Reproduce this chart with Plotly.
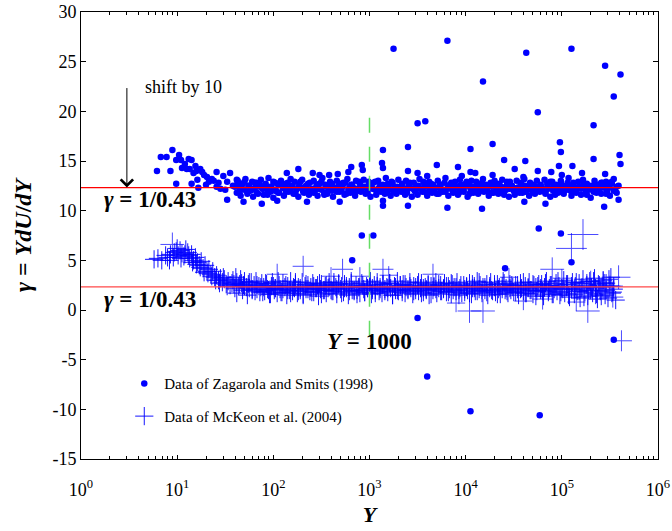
import numpy as np
import plotly.graph_objects as go

# ---------------- data (log10 of Y, and gamma values) ----------------
GAMMA_LOG = 1 / 0.43          # log-law value
SHIFT = 10                    # Zagarola & Smits data shifted by 10
Y_MARK = 1000                 # vertical marker position

# Zagarola and Smits (1998) - near-wall part
zs_low_lx = [0.79, 0.83, 0.89, 0.95, 0.99, 1.02, 0.93, 0.99, 1.04, 1.08, 1.12, 1.15, 1.10, 1.13, 1.19, 1.20,
             1.24, 1.26, 1.15, 1.21, 1.31, 1.36, 1.41, 1.48, 1.41, 1.52, 1.58, 1.65, 1.05, 1.17, 1.28, 1.33,
             1.38, 1.45, 1.55, 1.62, 1.22, 1.30, 1.43, 1.50]
zs_low_y = [14.0, 15.4, 15.4, 16.1, 15.1, 15.6, 14.0, 12.7, 15.1, 14.7, 15.2, 15.1, 14.2, 14.2, 14.5, 14.0,
            14.2, 13.9, 12.7, 13.1, 13.4, 13.2, 13.9, 13.5, 12.4, 12.9, 12.5, 12.7, 14.3, 13.8, 13.6, 12.9,
            13.0, 12.2, 13.8, 13.1, 12.3, 12.6, 12.8, 12.1]

# Zagarola and Smits (1998) - main band
zs_band_lx = [
    1.60, 1.62, 1.63, 1.65, 1.66, 1.68, 1.70, 1.71, 1.73, 1.74,
    1.76, 1.78, 1.79, 1.81, 1.82, 1.84, 1.86, 1.87, 1.89, 1.90,
    1.92, 1.94, 1.95, 1.97, 1.98, 2.00, 2.02, 2.03, 2.05, 2.06,
    2.08, 2.10, 2.11, 2.13, 2.14, 2.16, 2.18, 2.19, 2.21, 2.22,
    2.24, 2.26, 2.27, 2.29, 2.30, 2.32, 2.34, 2.35, 2.37, 2.38,
    2.40, 2.42, 2.43, 2.45, 2.46, 2.48, 2.50, 2.51, 2.53, 2.54,
    2.56, 2.58, 2.59, 2.61, 2.62, 2.64, 2.66, 2.67, 2.69, 2.70,
    2.72, 2.74, 2.75, 2.77, 2.78, 2.80, 2.82, 2.83, 2.85, 2.86,
    2.88, 2.90, 2.91, 2.93, 2.94, 2.96, 2.98, 2.99, 3.01, 3.02,
    3.04, 3.06, 3.07, 3.09, 3.10, 3.12, 3.14, 3.15, 3.17, 3.18,
    3.20, 3.22, 3.23, 3.25, 3.26, 3.28, 3.30, 3.31, 3.33, 3.34,
    3.36, 3.38, 3.39, 3.41, 3.42, 3.44, 3.46, 3.47, 3.49, 3.50,
    3.52, 3.54, 3.55, 3.57, 3.58, 3.60, 3.62, 3.63, 3.65, 3.66,
    3.68, 3.70, 3.71, 3.73, 3.74, 3.76, 3.78, 3.79, 3.81, 3.82,
    3.84, 3.86, 3.87, 3.89, 3.90, 3.92, 3.94, 3.95, 3.97, 3.98,
    4.00, 4.02, 4.03, 4.05, 4.06, 4.08, 4.10, 4.11, 4.13, 4.14,
    4.16, 4.18, 4.19, 4.21, 4.22, 4.24, 4.26, 4.27, 4.29, 4.30,
    4.32, 4.34, 4.35, 4.37, 4.38, 4.40, 4.42, 4.43, 4.45, 4.46,
    4.48, 4.50, 4.51, 4.53, 4.54, 4.56, 4.58, 4.59, 4.61, 4.62,
    4.64, 4.66, 4.67, 4.69, 4.70, 4.72, 4.74, 4.75, 4.77, 4.78,
    4.80, 4.82, 4.83, 4.85, 4.86, 4.88, 4.90, 4.91, 4.93, 4.94,
    4.96, 4.98, 4.99, 5.01, 5.02, 5.04, 5.06, 5.07, 5.09, 5.10,
    5.12, 5.14, 5.15, 5.17, 5.18, 5.20, 5.22, 5.23, 5.25, 5.26,
    5.28, 5.30, 5.31, 5.33, 5.34, 5.36, 5.38, 5.39, 5.41, 5.42,
    5.44, 5.46, 5.47, 5.49, 5.50, 5.52, 5.54, 5.55, 5.57, 5.59]
zs_band_y = [
    12.4, 11.8, 13.0, 12.2, 11.5, 12.7, 12.1, 13.2, 11.9, 12.5,
    12.0, 12.9, 11.4, 12.3, 12.8, 11.7, 12.6, 13.1, 12.2, 11.6,
    12.5, 12.1, 13.3, 11.9, 12.4, 11.3, 12.8, 12.0, 12.6, 11.8,
    13.0, 12.3, 11.5, 12.7, 12.2, 11.9, 13.2, 12.4, 11.7, 12.9,
    12.1, 11.4, 12.6, 12.3, 13.1, 11.8, 12.5, 12.0, 11.6, 12.8,
    12.2, 13.0, 11.9, 12.4, 11.5, 12.7, 12.1, 13.3, 11.8, 12.6,
    11.7, 12.5, 12.9, 12.0, 11.4, 12.3, 13.0, 12.2, 11.9, 12.7,
    12.4, 11.6, 12.8, 13.2, 12.1, 11.8, 12.6, 12.3, 11.5, 13.0,
    12.0, 12.7, 11.9, 12.4, 13.1, 11.7, 12.2, 12.9, 11.4, 12.5,
    12.8, 12.1, 11.6, 13.0, 12.3, 11.9, 12.6, 12.2, 13.3, 11.8,
    12.5, 11.5, 12.9, 12.0, 12.4, 11.7, 13.1, 12.2, 11.9, 12.7,
    12.1, 13.0, 11.8, 12.6, 12.3, 11.4, 12.8, 12.0, 12.5, 11.6,
    13.2, 12.2, 11.9, 12.7, 12.4, 11.5, 12.9, 12.1, 11.8, 12.6,
    12.3, 11.7, 13.0, 12.5, 12.0, 11.9, 12.8, 13.3, 12.2, 11.5,
    12.6, 12.1, 11.8, 12.9, 12.4, 11.6, 13.1, 12.3, 12.0, 11.9,
    12.7, 11.4, 12.5, 12.2, 13.0, 11.8, 12.4, 12.9, 11.7, 12.1,
    12.3, 13.2, 11.9, 12.6, 12.0, 11.5, 12.8, 12.4, 11.8, 13.0,
    12.2, 11.7, 12.7, 12.4, 13.1, 11.9, 12.1, 12.6, 11.4, 12.9,
    12.5, 12.0, 11.6, 13.0, 12.3, 11.8, 12.7, 12.2, 13.2, 11.9,
    12.4, 11.5, 12.8, 12.1, 12.6, 11.7, 13.0, 12.3, 11.9, 12.5,
    12.0, 13.1, 11.8, 12.7, 12.2, 11.4, 12.9, 12.4, 11.6, 12.6,
    12.3, 11.9, 13.0, 12.5, 11.7, 12.1, 12.8, 13.3, 12.0, 11.5,
    12.6, 12.2, 11.8, 12.9, 12.4, 11.6, 13.1, 12.3, 11.9, 12.7,
    12.1, 11.3, 12.5, 12.2, 13.0, 11.8, 12.6, 12.0, 11.7, 12.8,
    12.4, 12.9, 11.9, 12.3, 11.5, 12.7, 13.2, 12.1, 11.8, 12.5]

# Zagarola and Smits (1998) - band core
zs_core_lx = [
    1.62, 1.65, 1.67, 1.70, 1.73, 1.75, 1.78, 1.81, 1.83, 1.86,
    1.89, 1.92, 1.94, 1.97, 2.00, 2.02, 2.05, 2.08, 2.10, 2.13,
    2.15, 2.18, 2.20, 2.23, 2.26, 2.28, 2.31, 2.34, 2.36, 2.39,
    2.42, 2.45, 2.47, 2.50, 2.53, 2.55, 2.58, 2.61, 2.63, 2.66,
    2.68, 2.71, 2.73, 2.76, 2.79, 2.81, 2.84, 2.87, 2.89, 2.92,
    2.95, 2.98, 3.00, 3.03, 3.06, 3.08, 3.11, 3.14, 3.16, 3.19,
    3.21, 3.24, 3.26, 3.29, 3.32, 3.34, 3.37, 3.40, 3.42, 3.45,
    3.48, 3.51, 3.53, 3.56, 3.59, 3.61, 3.64, 3.67, 3.69, 3.72,
    3.74, 3.77, 3.79, 3.82, 3.85, 3.87, 3.90, 3.93, 3.95, 3.98,
    4.01, 4.04, 4.06, 4.09, 4.12, 4.14, 4.17, 4.20, 4.22, 4.25,
    4.27, 4.30, 4.32, 4.35, 4.38, 4.40, 4.43, 4.46, 4.48, 4.51,
    4.54, 4.57, 4.59, 4.62, 4.65, 4.67, 4.70, 4.73, 4.75, 4.78,
    4.80, 4.83, 4.85, 4.88, 4.91, 4.93, 4.96, 4.99, 5.01, 5.04,
    5.07, 5.10, 5.12, 5.15, 5.18, 5.20, 5.23, 5.26, 5.28, 5.31,
    5.33, 5.36, 5.38, 5.41, 5.44, 5.46, 5.49, 5.52, 5.54, 5.57]
zs_core_y = [
    12.6, 11.9, 12.3, 12.9, 11.7, 12.5, 12.1, 12.8, 11.8, 12.4,
    12.2, 12.7, 11.6, 12.4, 12.9, 12.0, 11.8, 12.6, 12.3, 11.9,
    12.8, 12.1, 12.5, 11.7, 12.3, 12.9, 11.9, 12.4, 12.7, 12.0,
    11.8, 12.6, 12.2, 12.9, 11.6, 12.4, 12.1, 12.7, 12.3, 11.9,
    12.5, 12.0, 12.8, 11.7, 12.3, 12.6, 11.9, 12.2, 12.9, 12.1,
    12.4, 11.8, 12.6, 12.2, 12.9, 11.9, 12.5, 12.0, 11.7, 12.7,
    12.1, 12.8, 11.9, 12.4, 12.0, 12.6, 11.6, 12.3, 12.8, 12.2,
    11.9, 12.5, 12.2, 12.9, 11.8, 12.4, 12.7, 12.0, 12.3, 11.7,
    12.6, 12.1, 11.9, 12.5, 12.8, 12.0, 12.3, 11.8, 12.6, 12.2,
    12.9, 11.7, 12.4, 12.1, 12.6, 11.9, 12.8, 12.3, 12.0, 12.5,
    11.8, 12.4, 12.7, 12.0, 12.3, 11.6, 12.9, 12.2, 12.5, 11.9,
    12.3, 12.8, 11.8, 12.5, 12.1, 12.7, 11.9, 12.4, 12.0, 12.6,
    12.2, 11.7, 12.6, 12.9, 12.0, 12.4, 11.8, 12.7, 12.3, 12.1,
    12.5, 12.0, 12.8, 11.9, 12.4, 12.2, 12.7, 11.6, 12.5, 12.3,
    11.9, 12.6, 12.1, 12.8, 12.3, 11.7, 12.5, 12.9, 12.0, 12.4]

# Zagarola and Smits (1998) - scattered points
zs_out_lx = [3.25, 3.81, 4.18, 4.63, 4.75, 5.10, 5.45, 5.54, 5.61, 5.33, 3.50, 3.58, 3.14, 3.40, 4.05, 4.28,
             4.98, 4.99, 5.33, 5.60, 5.61, 4.40, 4.62, 4.51, 5.11, 4.97, 2.81, 2.92, 2.93, 3.13, 3.14, 3.70,
             3.92, 4.75, 4.89, 5.21, 5.45, 4.05, 4.10, 4.28, 3.40, 3.50, 3.60, 2.14, 2.26, 2.41, 2.48, 2.58,
             2.67, 2.78, 3.96, 4.60, 5.00, 3.14, 3.14, 3.40, 3.81, 4.17, 4.61, 4.83, 5.44, 5.59, 1.88, 1.52,
             1.69, 2.04, 2.35, 2.69, 3.04, 2.92, 2.82, 3.50, 4.41, 4.76, 4.99, 5.10, 5.54, 3.60, 4.05, 4.77]
zs_out_y = [26.3, 27.1, 23.0, 25.9, 19.9, 26.3, 24.6, 21.5, 23.7, 18.6, 18.8, 19.0, 16.1, 16.4, 16.2, 16.7,
            16.9, 15.9, 15.2, 15.6, 14.7, 15.1, 15.0, 14.2, 14.5, 14.5, 14.4, 14.6, 14.1, 14.8, 14.3, 14.6,
            14.4, 14.0, 13.9, 13.8, 13.7, 13.9, 13.8, 13.6, 14.0, 13.8, 13.5, 13.8, 14.2, 13.8, 13.6, 13.6,
            13.7, 13.9, 13.5, 13.4, 13.6, 11.0, 10.5, 10.5, 10.3, 10.2, 10.9, 10.7, 10.4, 11.1, 10.7, 11.1,
            10.9, 11.0, 10.9, 10.9, 7.5, 7.5, 5.0, -0.8, 4.2, 8.2, 7.7, 4.8, -3.0, -6.7, -10.2, -10.6]

# McKeon et al. (2004) - near-wall hump
mk_low_lx = [0.76, 0.80, 0.84, 0.88, 0.90, 0.93, 0.97, 0.99, 1.01, 1.03, 1.05, 1.07, 1.09, 1.11, 1.13,
             1.15, 1.17, 1.19, 1.21, 1.23, 1.25, 1.27, 1.29, 1.31, 1.33, 1.35, 1.37, 1.39, 1.41, 1.43,
             1.45, 1.47, 1.49, 1.51, 1.53, 1.55, 1.57, 0.92, 0.96, 1.00, 1.04, 1.08, 1.12, 1.16, 1.20,
             1.24, 1.28, 1.32, 1.36, 1.40, 1.44, 1.48, 1.52]
mk_low_y = [5.1, 5.2, 5.0, 5.5, 5.3, 5.6, 5.8, 5.9, 5.5, 6.0, 5.7, 5.4, 6.1, 5.8, 5.2,
            5.6, 5.0, 5.3, 4.8, 4.5, 4.9, 4.2, 4.5, 3.9, 4.1, 3.6, 3.9, 3.3, 3.5, 3.0,
            3.2, 2.8, 3.1, 2.6, 2.9, 2.5, 2.7, 5.0, 5.3, 6.2, 5.2, 5.6, 5.5, 4.8, 4.6,
            4.3, 3.8, 3.7, 3.4, 3.0, 2.7, 3.3, 2.4]

# McKeon et al. (2004) - main band
mk_band_lx = [
    1.58, 1.59, 1.61, 1.62, 1.64, 1.66, 1.67, 1.69, 1.70, 1.72,
    1.74, 1.75, 1.77, 1.78, 1.80, 1.82, 1.83, 1.85, 1.86, 1.88,
    1.90, 1.91, 1.93, 1.94, 1.96, 1.98, 1.99, 2.01, 2.02, 2.04,
    2.06, 2.07, 2.09, 2.10, 2.12, 2.14, 2.15, 2.17, 2.18, 2.20,
    2.22, 2.23, 2.25, 2.26, 2.28, 2.30, 2.31, 2.33, 2.34, 2.36,
    2.38, 2.39, 2.41, 2.42, 2.44, 2.46, 2.47, 2.49, 2.50, 2.52,
    2.54, 2.55, 2.57, 2.58, 2.60, 2.62, 2.63, 2.65, 2.66, 2.68,
    2.70, 2.71, 2.73, 2.74, 2.76, 2.78, 2.79, 2.81, 2.82, 2.84,
    2.86, 2.87, 2.89, 2.90, 2.92, 2.94, 2.95, 2.97, 2.98, 3.00,
    3.02, 3.03, 3.05, 3.06, 3.08, 3.10, 3.11, 3.13, 3.14, 3.16,
    3.18, 3.19, 3.21, 3.22, 3.24, 3.26, 3.27, 3.29, 3.30, 3.32,
    3.34, 3.35, 3.37, 3.38, 3.40, 3.42, 3.43, 3.45, 3.46, 3.48,
    3.50, 3.51, 3.53, 3.54, 3.56, 3.58, 3.59, 3.61, 3.62, 3.64,
    3.66, 3.67, 3.69, 3.70, 3.72, 3.74, 3.75, 3.77, 3.78, 3.80,
    3.82, 3.83, 3.85, 3.86, 3.88, 3.90, 3.91, 3.93, 3.94, 3.96,
    3.98, 3.99, 4.01, 4.02, 4.04, 4.06, 4.07, 4.09, 4.10, 4.12,
    4.14, 4.15, 4.17, 4.18, 4.20, 4.22, 4.23, 4.25, 4.26, 4.28,
    4.30, 4.31, 4.33, 4.34, 4.36, 4.38, 4.39, 4.41, 4.42, 4.44,
    4.46, 4.47, 4.49, 4.50, 4.52, 4.54, 4.55, 4.57, 4.58, 4.60,
    4.62, 4.63, 4.65, 4.66, 4.68, 4.70, 4.71, 4.73, 4.74, 4.76,
    4.78, 4.79, 4.81, 4.82, 4.84, 4.86, 4.87, 4.89, 4.90, 4.92,
    4.94, 4.95, 4.97, 4.98, 5.00, 5.02, 5.03, 5.05, 5.06, 5.08,
    5.10, 5.11, 5.13, 5.14, 5.16, 5.18, 5.19, 5.21, 5.22, 5.24,
    5.26, 5.27, 5.29, 5.30, 5.32, 5.34, 5.35, 5.37, 5.38, 5.40,
    5.42, 5.43, 5.45, 5.46, 5.48, 5.50, 5.51, 5.53, 5.54, 5.56]
mk_band_y = [
    3.0, 2.6, 3.3, 2.8, 2.4, 3.1, 2.7, 2.5, 2.9, 2.3,
    2.6, 2.2, 2.8, 2.0, 2.5, 2.9, 2.1, 2.4, 1.8, 2.7,
    2.3, 1.9, 2.6, 2.1, 1.6, 2.4, 2.8, 2.0, 2.2, 1.7,
    2.5, 2.1, 1.8, 2.7, 2.3, 1.5, 2.4, 2.0, 2.9, 1.9,
    2.2, 2.6, 1.7, 2.3, 2.0, 2.8, 1.6, 2.4, 2.1, 2.5,
    1.9, 2.3, 2.7, 1.8, 2.2, 2.5, 1.4, 2.1, 2.6, 2.0,
    2.4, 1.7, 2.2, 2.8, 2.0, 1.9, 2.5, 2.3, 1.6, 2.7,
    2.1, 2.4, 1.8, 2.6, 2.2, 1.5, 2.3, 2.9, 2.0, 1.9,
    2.5, 2.0, 2.3, 1.7, 2.7, 2.1, 1.8, 2.4, 2.2, 2.6,
    1.6, 2.2, 2.5, 2.0, 2.8, 1.9, 2.3, 1.7, 2.6, 2.1,
    2.3, 1.8, 2.7, 2.2, 1.5, 2.4, 2.0, 2.9, 1.9, 2.5,
    2.1, 2.6, 1.7, 2.3, 2.0, 2.8, 2.2, 1.6, 2.4, 2.0,
    2.5, 1.9, 2.2, 2.7, 1.8, 2.3, 2.1, 2.6, 1.5, 2.4,
    2.0, 2.3, 2.8, 1.7, 2.2, 2.5, 1.9, 2.1, 2.7, 1.8,
    2.4, 2.1, 1.6, 2.6, 2.3, 1.9, 2.8, 2.0, 2.2, 1.7,
    2.5, 1.8, 2.3, 2.0, 2.7, 1.6, 2.2, 2.4, 1.9, 2.9,
    2.1, 2.5, 1.7, 2.3, 2.0, 2.6, 1.5, 2.2, 2.8, 1.9,
    2.3, 1.8, 2.6, 2.1, 1.6, 2.4, 2.9, 2.0, 2.2, 1.7,
    2.6, 2.0, 2.3, 1.8, 2.5, 2.1, 1.5, 2.7, 2.2, 1.9,
    2.4, 1.7, 2.2, 2.8, 2.0, 1.6, 2.5, 2.3, 1.9, 2.6,
    2.0, 2.6, 1.4, 2.3, 2.9, 1.8, 2.2, 2.5, 1.6, 2.1,
    2.7, 1.9, 2.4, 1.5, 2.2, 3.0, 1.7, 2.3, 2.6, 1.3,
    2.1, 2.8, 1.6, 2.4, 1.9, 2.7, 1.2, 2.3, 3.1, 1.8,
    2.5, 1.4, 2.9, 2.0, 1.7, 3.2, 2.2, 1.1, 2.6, 1.9,
    2.3, 3.0, 1.5, 2.7, 1.2, 2.4, 3.3, 1.8, 2.1, 1.0]

# McKeon et al. (2004) - band core
mk_core_lx = [
    1.60, 1.62, 1.65, 1.68, 1.70, 1.73, 1.75, 1.78, 1.81, 1.83,
    1.87, 1.89, 1.92, 1.95, 1.97, 2.00, 2.02, 2.05, 2.08, 2.10,
    2.13, 2.15, 2.18, 2.21, 2.23, 2.26, 2.28, 2.31, 2.34, 2.36,
    2.40, 2.42, 2.45, 2.48, 2.50, 2.53, 2.55, 2.58, 2.61, 2.63,
    2.66, 2.68, 2.71, 2.74, 2.76, 2.79, 2.81, 2.84, 2.87, 2.89,
    2.93, 2.95, 2.98, 3.01, 3.03, 3.06, 3.08, 3.11, 3.14, 3.16,
    3.19, 3.21, 3.24, 3.27, 3.29, 3.32, 3.34, 3.37, 3.40, 3.42,
    3.46, 3.48, 3.51, 3.54, 3.56, 3.59, 3.61, 3.64, 3.67, 3.69,
    3.72, 3.74, 3.77, 3.80, 3.82, 3.85, 3.87, 3.90, 3.93, 3.95,
    3.99, 4.01, 4.04, 4.07, 4.09, 4.12, 4.14, 4.17, 4.20, 4.22,
    4.25, 4.27, 4.30, 4.33, 4.35, 4.38, 4.40, 4.43, 4.46, 4.48,
    4.52, 4.54, 4.57, 4.60, 4.62, 4.65, 4.67, 4.70, 4.73, 4.75,
    4.78, 4.80, 4.83, 4.86, 4.88, 4.91, 4.93, 4.96, 4.99, 5.01,
    5.05, 5.07, 5.10, 5.13, 5.15, 5.18, 5.20, 5.23, 5.26, 5.28,
    5.31, 5.33, 5.36, 5.39, 5.41, 5.44, 5.46, 5.49, 5.52, 5.54]
mk_core_y = [
    2.2, 1.7, 2.6, 2.0, 2.4, 1.5, 2.8, 2.1, 1.9, 2.5,
    2.3, 1.8, 2.7, 2.0, 1.6, 2.4, 2.2, 2.9, 1.8, 2.1,
    2.5, 2.0, 1.7, 2.3, 2.8, 1.9, 2.2, 1.5, 2.6, 2.1,
    1.8, 2.4, 2.2, 2.7, 1.6, 2.0, 2.5, 2.3, 1.9, 2.8,
    2.1, 2.6, 1.7, 2.2, 2.4, 1.9, 2.7, 2.0, 1.6, 2.3,
    2.5, 1.8, 2.2, 2.9, 2.0, 1.7, 2.4, 2.1, 2.6, 1.9,
    2.2, 2.7, 1.5, 2.3, 2.0, 2.5, 1.8, 2.6, 2.1, 2.4,
    1.9, 2.3, 2.8, 1.7, 2.2, 2.0, 2.5, 1.6, 2.4, 2.1,
    2.6, 1.9, 2.2, 2.4, 1.8, 2.7, 2.0, 2.3, 1.5, 2.5,
    2.1, 2.4, 1.7, 2.6, 2.2, 1.9, 2.8, 2.0, 2.3, 1.8,
    2.4, 2.0, 2.6, 1.6, 2.3, 2.1, 2.7, 1.9, 2.2, 2.5,
    1.8, 2.5, 2.1, 2.8, 1.7, 2.3, 2.0, 2.6, 1.4, 2.4,
    2.2, 1.9, 2.7, 2.0, 2.5, 1.6, 2.3, 2.9, 1.8, 2.1,
    2.6, 1.5, 2.4, 2.1, 2.8, 1.9, 2.2, 1.3, 2.7, 2.0,
    2.3, 2.9, 1.6, 2.5, 1.4, 2.7, 2.0, 3.1, 1.7, 2.4]

# McKeon et al. (2004) - scattered larger crosses
mk_out_lx = [2.04, 2.31, 2.72, 3.14, 3.66, 4.90, 5.59, 4.04, 4.18, 4.80, 5.27, 5.53, 5.43, 5.30, 5.50,
             3.20, 2.60, 2.90, 4.45, 5.00, 5.15, 4.60, 3.90, 5.35, 5.22, 5.10, 5.62, 0.95]
mk_out_y = [3.6, 4.4, 4.1, 4.1, 3.6, 4.1, 3.3, -0.1, -0.1, 1.1, -0.1, 1.3, 2.8, 2.9, 2.4,
            3.5, 3.4, 3.4, 3.3, 3.2, 0.8, 0.9, 0.7, 1.5, 7.6, 6.2, -3.1, 6.6]
mk_out_size = [15, 15, 15, 15, 15, 17, 17, 17, 17, 15, 17, 15, 15, 15, 15,
               13, 13, 13, 13, 13, 13, 13, 13, 13, 22, 22, 15, 17]

x_tick_vals = [1, 10, 100, 1000, 10000, 100000, 1000000]
x_tick_text = ["10<sup>0</sup>", "10<sup>1</sup>", "10<sup>2</sup>", "10<sup>3</sup>",
               "10<sup>4</sup>", "10<sup>5</sup>", "10<sup>6</sup>"]
y_tick_vals = [-15, -10, -5, 0, 5, 10, 15, 20, 25, 30]
y_tick_text = ["-15", "-10", "-5", "0", "5", "10", "15", "20", "25", "30"]

# ---------------- figure ----------------
SERIF = "Liberation Serif, Times New Roman, serif"
BLUE = "#0000ff"
CROSS = "rgba(0,0,255,0.92)"


def tox(lx):
    return np.power(10.0, np.array(lx, dtype=float))


fig = go.Figure()

# McKeon crosses (drawn first)
fig.add_trace(go.Scatter(
    x=tox(mk_low_lx + mk_band_lx + mk_core_lx), y=mk_low_y + mk_band_y + mk_core_y,
    mode="markers", name="Data of McKeon et al. (2004)", legendgroup="mk", legendrank=2,
    marker=dict(symbol="cross-thin", size=13, color=CROSS,
                line=dict(width=1, color=CROSS))))
fig.add_trace(go.Scatter(
    x=tox(mk_out_lx), y=mk_out_y, mode="markers", showlegend=False,
    legendgroup="mk",
    marker=dict(symbol="cross-thin", size=mk_out_size, color=BLUE,
                line=dict(width=1, color=BLUE))))

# Zagarola & Smits dots
fig.add_trace(go.Scatter(
    x=tox(zs_low_lx + zs_band_lx + zs_core_lx + zs_out_lx),
    y=zs_low_y + zs_band_y + zs_core_y + zs_out_y,
    mode="markers", name="Data of Zagarola and Smits (1998)", legendgroup="zs",
    legendrank=1,
    marker=dict(symbol="circle", size=6.5, color=BLUE, line=dict(width=0))))

# reference lines
fig.add_shape(type="line", xref="paper", x0=0, x1=1, yref="y",
              y0=GAMMA_LOG + SHIFT, y1=GAMMA_LOG + SHIFT,
              line=dict(color="#ff0000", width=1.2), layer="above")
fig.add_shape(type="line", xref="paper", x0=0, x1=1, yref="y",
              y0=GAMMA_LOG, y1=GAMMA_LOG,
              line=dict(color="#ff4848", width=1.2), layer="above")
fig.add_shape(type="line", xref="x", x0=Y_MARK, x1=Y_MARK, yref="y", y0=-2.6, y1=20,
              line=dict(color="#66dd66", width=1.5, dash="15px,14px"), layer="above")

annots = [
    dict(x=1.07, y=22.4, xref="x", yref="y", text="shift by 10", showarrow=False,
         font=dict(family=SERIF, size=18, color="black")),
    dict(x=np.log10(3.0), y=GAMMA_LOG + SHIFT, xref="x", yref="y", text="",
         showarrow=True, ax=0, ay=-101, arrowhead=4, arrowsize=2.4, arrowwidth=1,
         arrowcolor="black"),
    dict(x=0.72, y=11.1, xref="x", yref="y", text="<b><i>γ</i> = 1/0.43</b>", showarrow=False,
         font=dict(family=SERIF, size=23, color="black")),
    dict(x=0.72, y=1.1, xref="x", yref="y", text="<b><i>γ</i> = 1/0.43</b>", showarrow=False,
         font=dict(family=SERIF, size=23, color="black")),
    dict(x=3.0, y=-3.2, xref="x", yref="y", text="<b><i>Y</i> = 1000</b>", showarrow=False,
         font=dict(family=SERIF, size=23, color="black")),
]

minor_vals = [m * 10 ** d for d in range(6) for m in range(2, 10)]

fig.update_layout(
    width=672, height=531,
    margin=dict(l=81, r=14, t=12, b=72),
    plot_bgcolor="white", paper_bgcolor="white",
    font=dict(family=SERIF, size=17, color="black"),
    annotations=annots,
    legend=dict(x=0.075, y=0.205, xanchor="left", yanchor="top",
                bgcolor="rgba(0,0,0,0)", font=dict(family=SERIF, size=15),
                traceorder="grouped", tracegroupgap=10),
    xaxis=dict(type="log", range=[0, 6], tickvals=x_tick_vals, ticktext=x_tick_text,
               ticks="inside", ticklen=4, tickcolor="black", showline=True,
               linecolor="black", linewidth=1, mirror="ticks", showgrid=False,
               zeroline=False, tickfont=dict(family=SERIF, size=18), automargin=False,
               ticklabelstandoff=14,
               minor=dict(tickvals=minor_vals, ticks="inside", ticklen=3,
                          tickcolor="black", showgrid=False),
               title=dict(text="<b><i>Y</i></b>", font=dict(family=SERIF, size=22),
                          standoff=8)),
    yaxis=dict(range=[-15, 30], tickvals=y_tick_vals, ticktext=y_tick_text,
               ticks="inside", ticklen=5, tickcolor="black", showline=True,
               linecolor="black", linewidth=1, mirror="ticks", showgrid=False,
               zeroline=False, tickfont=dict(family=SERIF, size=18), automargin=False,
               title=dict(text="<b><i>γ</i> = <i>YdU</i>/<i>dY</i></b>",
                          font=dict(family=SERIF, size=24), standoff=14)),
)

fig.write_html("out.html")
